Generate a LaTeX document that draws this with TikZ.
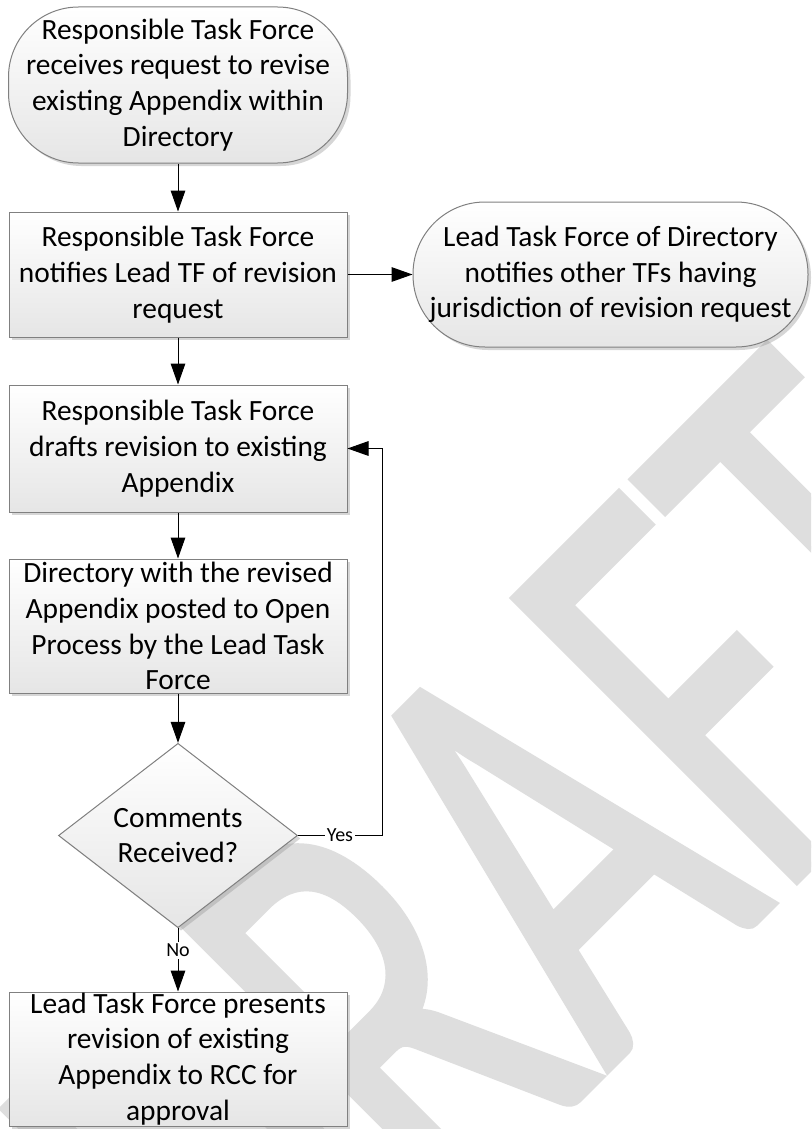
\documentclass[tikz,border=0pt]{standalone}
\usepackage{fontspec}
\usepackage{graphicx}
\setmainfont{Carlito}
\newfontfamily\markfont[FakeBold=1.1]{Carlito}
\usetikzlibrary{arrows.meta,shapes.geometric,shadows}

\begin{document}
\begin{tikzpicture}[x=0.5pt,y=-0.5pt,
    every node/.style={font=\fontsize{14.7}{17.9}\selectfont, align=center, inner sep=0pt},
    boxshade/.style={draw=black!50, line width=0.5pt, top color=white, bottom color=black!10,
      drop shadow={shadow xshift=1.5pt, shadow yshift=-1.5pt, fill=black!45, opacity=.35}},
    proc/.style={rectangle, boxshade, minimum width=169pt},
    term/.style={rectangle, boxshade, rounded corners=#1},
    decision/.style={diamond, boxshade, minimum width=119.5pt, minimum height=89.5pt},
    conn/.style={line width=0.5pt, -{Triangle[length=10.5pt,width=7.3pt]}},
    lbl/.style={font=\fontsize{10}{12}\selectfont, fill=white, inner sep=1pt}]

  \useasboundingbox (0,0) rectangle (811,1129);
  \fill[white] (0,0) rectangle (811,1129);
  \clip (0,0) rectangle (811,1129);

  \node[rotate=45, anchor=base, text=black!13, font=\markfont\fontsize{208}{208}\selectfont] (mark) at (660,1018) {\scalebox{1}[1.5]{DRAFT}};

  \node[term=35pt, minimum width=169.5pt, minimum height=78pt] (start) at (178,85)
    {Responsible Task Force\\receives request to revise\\existing Appendix within\\Directory};
  \node[proc, minimum height=62.5pt] (notify) at (178,274.5)
    {Responsible Task Force\\notifies Lead TF of revision\\request};
  \node[term=36pt, minimum width=197.5pt, minimum height=72.5pt] (lead) at (610.5,274.5)
    {Lead Task Force of Directory\\notifies other TFs having\\jurisdiction of revision request};
  \node[proc, minimum height=63.5pt] (draft) at (178,448.5)
    {Responsible Task Force\\drafts revision to existing\\Appendix};
  \node[proc, minimum height=67pt] (post) at (178,626)
    {Directory with the revised\\Appendix posted to Open\\Process by the Lead Task\\Force};
  \node[decision] (check) at (178,835.5) {Comments\\Received?};
  \node[proc, minimum height=67pt] (present) at (178,1059)
    {Lead Task Force presents\\revision of existing\\Appendix to RCC for\\approval};
  \coordinate (turn) at (382,0);

  \draw[conn] (start) -- (notify);
  \draw[conn] (notify) -- (lead);
  \draw[conn] (notify) -- (draft);
  \draw[conn] (draft) -- (post);
  \draw[conn] (post) -- (check);
  \draw[conn] (check.east) -- node[lbl]{Yes} (check.east -| turn) |- (draft.east);
  \draw[conn] (check) -- node[lbl, pos=0.35]{No} (present);

\end{tikzpicture}
\end{document}
